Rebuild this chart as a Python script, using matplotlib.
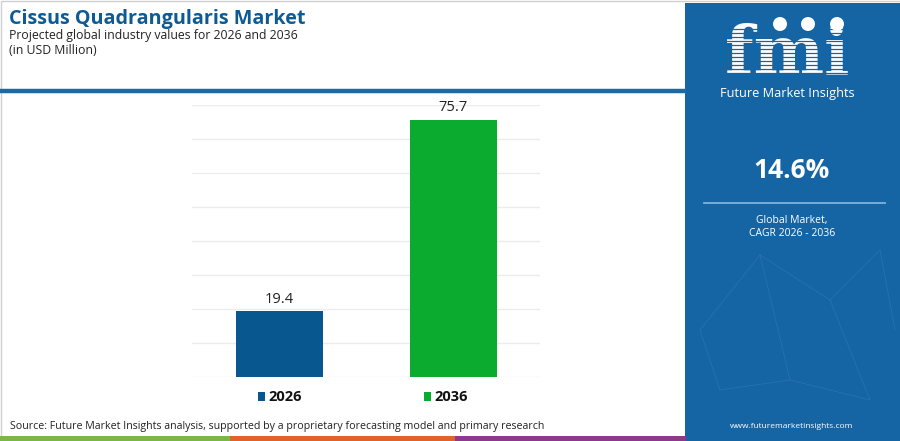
import matplotlib
matplotlib.use("Agg")
import matplotlib.pyplot as plt
from matplotlib.patches import Rectangle, Circle

# data
years = ["2026", "2036"]
values = [19.4, 75.7]
bar_colors = ["#08578f", "#0aab2e"]
cagr = "14.6%"

W, H = 900, 441
plt.rcParams["font.family"] = ["Open Sans", "DejaVu Sans"]

fig = plt.figure(figsize=(W / 100, H / 100), dpi=100)
fig.patch.set_facecolor("white")


def fx(x):
    return x / W


def fy(y):
    return 1 - y / H


# overlay axes in pixel coords for decoration
deco = fig.add_axes([0, 0, 1, 1], zorder=0)
deco.set_xlim(0, W)
deco.set_ylim(H, 0)
deco.axis("off")

panel_blue = "#1565a5"
# border
deco.add_patch(Rectangle((0.5, 0.5), W - 1, H - 1, fill=False, ec="#d0d0d0", lw=1))
# header rule
deco.plot([0, 686], [91, 91], color="#1a6aa8", lw=3.2, solid_capstyle="butt")
# right panel
deco.add_patch(Rectangle((685, 3), W - 685, H - 3, color=panel_blue, lw=0))
# faint network lines in panel
net = [((700, 330), (760, 255)), ((760, 255), (830, 300)), ((830, 300), (880, 250)),
       ((760, 255), (790, 380)), ((830, 300), (870, 400)), ((720, 390), (790, 380)),
       ((790, 380), (870, 400)), ((700, 330), (720, 390)), ((880, 250), (895, 330))]
for (a, b) in net:
    deco.plot([a[0], b[0]], [a[1], b[1]], color="#4f8cc0", lw=0.5, alpha=0.35)
# bottom stripe
deco.add_patch(Rectangle((0, 436), 230, 5, color="#7ab648", lw=0))
deco.add_patch(Rectangle((230, 436), 225, 5, color="#e2622b", lw=0))
deco.add_patch(Rectangle((455, 436), 231, 5, color="#8e3a8c", lw=0))

# fmi logo
deco.text(787, 73, "fmi", color="white", fontsize=48, fontweight="bold",
          ha="center", va="baseline", family="DejaVu Serif", zorder=3)
for yy in range(29, 74, 4):
    deco.plot([712, 862], [yy, yy], color=panel_blue, lw=0.9, zorder=5)
for cx in (780, 808, 837):
    deco.add_patch(Circle((cx, 24), 7, color="white", lw=0, zorder=6))
deco.text(787, 93, "Future Market Insights", color="white", fontsize=9.2,
          ha="center", va="center")

# panel text
deco.text(792, 171, cagr, color="white", fontsize=19, fontweight="bold",
          ha="center", va="center")
deco.plot([704, 885], [203, 203], color="#7fb2de", lw=1.3)
deco.text(792, 221, "Global Market,", color="white", fontsize=7.5, ha="center", va="center")
deco.text(792, 234, "CAGR 2026 - 2036", color="white", fontsize=7.5, ha="center", va="center")
deco.text(792, 426, "www.futuremarketinsights.com", color="white", fontsize=6,
          ha="center", va="center")

# titles
deco.text(9, 19, "Cissus Quadrangularis Market", color="#0d5a94", fontsize=14.2,
          fontweight="bold", ha="left", va="center")
deco.text(9, 35, "Projected global industry values for 2026 and 2036", color="#222222",
          fontsize=8.8, ha="left", va="center")
deco.text(9, 51, "(in USD Million)", color="#222222", fontsize=8.8, ha="left", va="center")
deco.text(10, 426, "Source: Future Market Insights analysis, supported by a proprietary "
          "forecasting model and primary research", color="#222222", fontsize=7.7,
          ha="left", va="center")

# main bar chart
ax = fig.add_axes([fx(192), fy(377), fx(540) - fx(192), fy(105) - fy(377)], zorder=2)
ax.patch.set_alpha(0)
xs = range(len(years))
bars = ax.bar(xs, values, width=0.5, color=bar_colors, zorder=3)
ax.set_xlim(-0.5, 1.5)
ax.set_ylim(0, 80)
ax.set_yticks(range(0, 81, 10))
ax.yaxis.grid(True, color="#ececec", lw=1)
ax.set_axisbelow(True)
for s in ax.spines.values():
    s.set_visible(False)
ax.tick_params(left=False, bottom=False, labelleft=False, labelbottom=False)
for b, v in zip(bars, values):
    ax.annotate(f"{v}", (b.get_x() + b.get_width() / 2, v), xytext=(0, 8.5),
                textcoords="offset points", ha="center", va="center",
                fontsize=10.5, color="#222222")

# legend
leg_x = [258, 424]
for lx, yr, c in zip(leg_x, years, bar_colors):
    deco.add_patch(Rectangle((lx, 392), 7, 9, color=c, lw=0))
    deco.text(lx + 10, 397, yr, fontsize=10.5, fontweight="bold", color="#111111",
              ha="left", va="center")

fig.savefig("out.png", dpi=100)
